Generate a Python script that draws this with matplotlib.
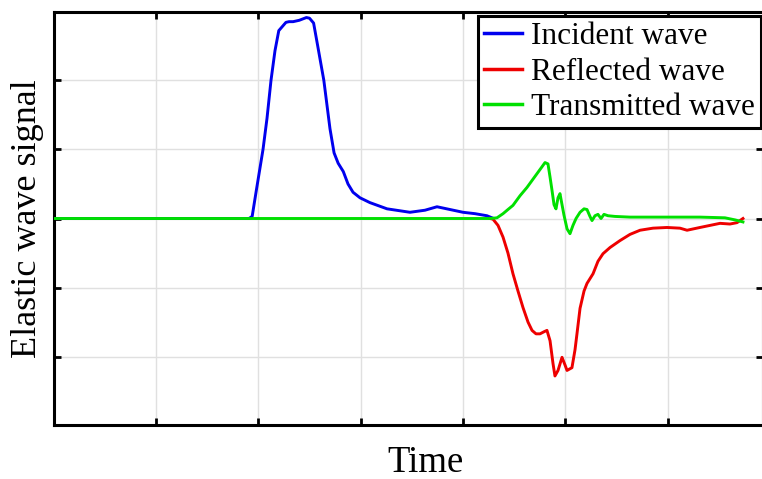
import matplotlib
matplotlib.use("Agg")
import matplotlib.pyplot as plt
import numpy as np

# ---- data (grid units) ----
inc_t = [0.0, 1.909, 1.94, 1.98, 2.046, 2.085, 2.124, 2.163, 2.20, 2.27, 2.30, 2.34,
         2.40, 2.47, 2.50, 2.54, 2.58, 2.64, 2.70, 2.74, 2.78, 2.83, 2.876, 2.925,
         2.993, 3.09, 3.257, 3.481, 3.628, 3.745, 3.872, 3.999, 4.116, 4.233, 4.282]
inc_v = [0.0, 0.0, 0.03, 0.4, 1.0, 1.45, 2.0, 2.43, 2.72, 2.84, 2.85, 2.85,
         2.87, 2.91, 2.90, 2.83, 2.5, 2.0, 1.3, 0.95, 0.8, 0.68, 0.5, 0.38,
         0.30, 0.23, 0.14, 0.09, 0.12, 0.17, 0.13, 0.09, 0.07, 0.04, 0.01]

ref_t = [4.263, 4.292, 4.341, 4.39, 4.438, 4.487, 4.536, 4.585, 4.634, 4.673,
         4.712, 4.751, 4.79, 4.819, 4.849, 4.878, 4.897, 4.927, 4.966, 4.995,
         5.015, 5.063, 5.093, 5.112, 5.142, 5.181, 5.21, 5.269, 5.317, 5.366,
         5.435, 5.532, 5.63, 5.728, 5.854, 5.991, 6.118, 6.187, 6.313, 6.411,
         6.509, 6.606, 6.675, 6.733]
ref_v = [0.0, -0.01, -0.1, -0.27, -0.5, -0.80, -1.05, -1.29, -1.5, -1.62,
         -1.67, -1.67, -1.64, -1.62, -1.77, -2.1, -2.28, -2.2, -2.01, -2.12,
         -2.2, -2.16, -1.9, -1.67, -1.3, -1.05, -0.94, -0.80, -0.62, -0.51,
         -0.42, -0.32, -0.23, -0.17, -0.14, -0.13, -0.14, -0.17, -0.13, -0.10,
         -0.07, -0.08, -0.06, 0.0]

tra_t = [0.0, 4.263, 4.331, 4.39, 4.438, 4.487, 4.556, 4.624, 4.673, 4.722,
         4.771, 4.80, 4.829, 4.849, 4.868, 4.888, 4.907, 4.927, 4.946, 4.966,
         4.985, 5.015, 5.044, 5.073, 5.103, 5.142, 5.181, 5.21, 5.239, 5.259,
         5.288, 5.317, 5.347, 5.376, 5.415, 5.483, 5.63, 6.313, 6.557, 6.655, 6.733]
tra_v = [0.0, 0.0, 0.01, 0.07, 0.13, 0.19, 0.33, 0.45, 0.55, 0.65,
         0.75, 0.81, 0.79, 0.6, 0.41, 0.2, 0.14, 0.3, 0.36, 0.2,
         0.05, -0.15, -0.22, -0.1, 0.0, 0.09, 0.14, 0.13, 0.03, -0.03,
         0.04, 0.06, 0.0, 0.06, 0.04, 0.03, 0.02, 0.02, 0.01, -0.02, -0.05]

labels = ["Incident wave", "Reflected wave", "Transmitted wave"]
colors = ["#0000ee", "#ee0000", "#00e000"]

plt.rcParams['font.family'] = ['Liberation Serif', 'DejaVu Serif']

fig = plt.figure(figsize=(7.62, 4.79), dpi=100)
ax = fig.add_axes([53.5 / 762, 54 / 479, (763 - 53.5) / 762, (425 - 12) / 479])

lw = 2.1
ax.plot(inc_t, inc_v, color=colors[0], lw=lw, label=labels[0], zorder=3)
ax.plot(ref_t, ref_v, color=colors[1], lw=lw, label=labels[1], zorder=3)
ax.plot(tra_t, tra_v, color=colors[2], lw=lw, label=labels[2], zorder=4)

ax.set_xlim(0, (763 - 53.5) / 102.4)
ax.set_ylim(-2.99, 2.99)
ax.set_xticks(np.arange(1, 7))
ax.set_yticks(np.arange(-2, 3))
ax.set_xticklabels([])
ax.set_yticklabels([])
ax.grid(True, color='#e0e0e0', lw=1.0, zorder=0)
ax.tick_params(direction='in', length=5, width=2, top=True, right=True,
               color='black')
for s in ax.spines.values():
    s.set_linewidth(2.2)
    s.set_color('black')

ax.set_xlabel("Time", fontsize=26.5)
ax.xaxis.label.set_verticalalignment('top')
ax.xaxis.set_label_coords((426 - 53.5) / (763 - 53.5), -(445 - 425) / (425 - 12))
ax.set_ylabel("Elastic wave signal", fontsize=26, labelpad=3)

leg = ax.legend(loc='upper right', bbox_to_anchor=(761 / 762, 1 - 16 / 479),
                bbox_transform=fig.transFigure, fontsize=22.5, frameon=True,
                fancybox=False, shadow=False, borderaxespad=0, borderpad=0.2,
                labelspacing=0.2, handlelength=1.2, handletextpad=0.3)
leg.get_frame().set_edgecolor('black')
leg.get_frame().set_linewidth(2.2)
leg.get_frame().set_alpha(1)
for l in leg.get_lines():
    l.set_linewidth(2.5)

fig.savefig("out.png", dpi=100)
